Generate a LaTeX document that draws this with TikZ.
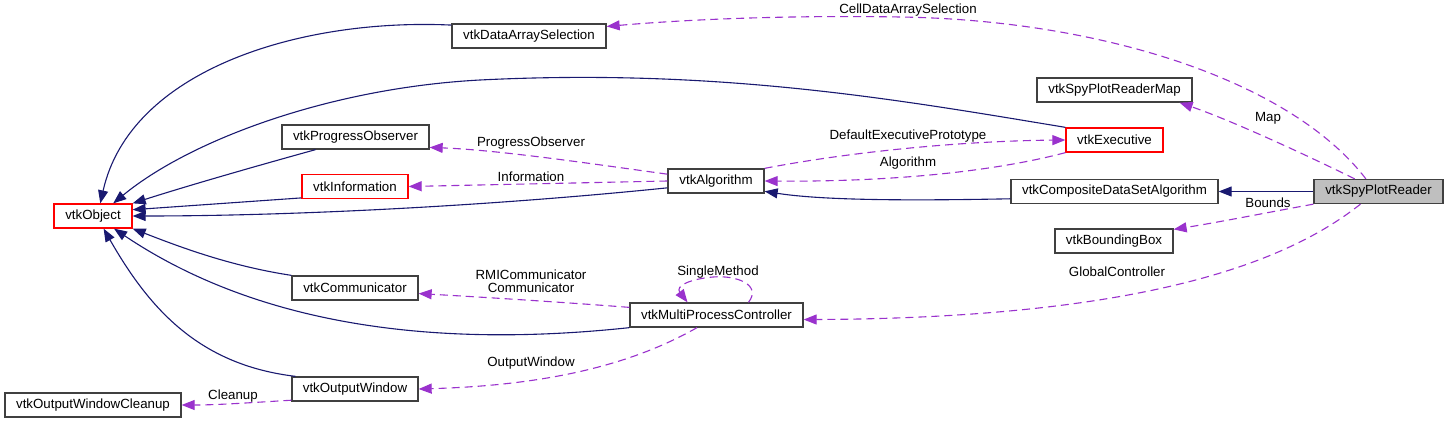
\documentclass[tikz,border=0pt]{standalone}
\usepackage{fontspec}
\setmainfont{Liberation Sans}
\usetikzlibrary{arrows.meta}
\definecolor{navy}{HTML}{191970}
\definecolor{orchid}{HTML}{9A32CD}
\begin{document}
\begin{tikzpicture}[x=1pt,y=-1pt,
 box/.style={draw=black!75, line width=1.3pt, fill=white, minimum height=24pt, inner sep=0pt, font=\fontsize{13.3}{15}\selectfont},
 redbox/.style={box, draw=red},
 inh/.style={draw=navy, line width=1.1pt, -{Triangle[length=13pt,width=10pt]}},
 use/.style={draw=orchid, line width=1.1pt, dash pattern=on 8pt off 5pt, -{Triangle[length=13pt,width=10pt]}},
 lbl/.style={font=\fontsize{13.3}{15}\selectfont, inner sep=0pt, align=center}]
\useasboundingbox[fill=white] (0,0) rectangle (1448,423);

% nodes
\node[box, minimum width=154pt] (das) at (529,36) {vtkDataArraySelection};
\node[box, minimum width=155pt] (map) at (1114.5,90) {vtkSpyPlotReaderMap};
\node[redbox, minimum width=97pt] (exe) at (1114.5,140) {vtkExecutive};
\node[box, minimum width=207pt] (cdsa) at (1114.5,191.5) {vtkCompositeDataSetAlgorithm};
\node[box, minimum width=129pt, fill=black!25] (spr) at (1378.5,191.5) {vtkSpyPlotReader};
\node[box, minimum width=118pt] (bb) at (1114,241) {vtkBoundingBox};
\node[box, minimum width=147pt] (po) at (355.5,137) {vtkProgressObserver};
\node[redbox, minimum width=106pt] (inf) at (355,186.5) {vtkInformation};
\node[redbox, minimum width=78pt] (obj) at (93,216) {vtkObject};
\node[box, minimum width=126pt] (comm) at (355,288) {vtkCommunicator};
\node[box, minimum width=126pt] (ow) at (355,389) {vtkOutputWindow};
\node[box, minimum width=176pt] (owc) at (93,405) {vtkOutputWindowCleanup};
\node[box, minimum width=96pt] (alg) at (716,181) {vtkAlgorithm};
\node[box, minimum width=173pt] (mpc) at (716.5,315) {vtkMultiProcessController};

% inheritance
\draw[inh] (das.172) .. controls (300,18) and (130,70) .. (obj.60);
\draw[inh] (exe.north west) .. controls (900,100) and (720,68) .. (480,80)
  .. controls (330,88) and (190,140) .. (obj.32);
\draw[inh] ([xshift=-40pt]po.south) .. controls (260,165) and (190,185) .. (obj.north east);
\draw[inh] (inf.192) -- (obj.9);
\draw[inh] (alg.188) .. controls (500,205) and (300,216) .. (obj.east);
\draw[inh] (comm.north west) .. controls (230,266) and (180,247) .. (obj.south east);
\draw[inh] (mpc.south west) .. controls (420,350) and (250,320) .. (obj.-31);
\draw[inh] (ow.168) .. controls (200,365) and (150,310) .. (obj.-50);
\draw[inh] (cdsa.184) .. controls (900,201) and (820,200) .. (alg.-12);
\draw[inh] (spr.west) -- (cdsa.east);

% usage
\draw[use] (spr.135) .. controls (1290,80) and (1100,20) .. (900,17)
  .. controls (780,15) and (680,20) .. (das.7);
\node[lbl] (l1) at (908,10) {CellDataArraySelection};
\draw[use] (spr.152) .. controls (1300,152) and (1230,120) .. (map.-11);
\node[lbl] (l2) at (1268,118) {Map};
\draw[use] (spr.191) .. controls (1270,212) and (1220,222) .. (bb.11);
\node[lbl] (l3) at (1268,203) {Bounds};
\draw[use] (spr.-145) .. controls (1290,260) and (1150,318) .. (mpc.-3);
\node[lbl] (l4) at (1117,272) {GlobalController};
\draw[use] (alg.north east) .. controls (850,152) and (960,141) .. (exe.west);
\node[lbl] (l5) at (908,136) {DefaultExecutivePrototype};
\draw[use] (exe.south west) .. controls (1000,170) and (900,182) .. (alg.east);
\node[lbl] (l6) at (908,163) {Algorithm};
\draw[use] (alg.172) .. controls (600,165) and (500,150) .. (po.-8);
\node[lbl] (l7) at (531,143) {ProgressObserver};
\draw[use] (alg.west) -- (inf.east);
\node[lbl] (l8) at (531,177) {Information};
\draw[use] (mpc.175) .. controls (560,302) and (480,297) .. (comm.-5);
\node[lbl] (l9) at (531,281) {RMICommunicator\\[-2pt]Communicator};
\draw[use] ([xshift=32pt]mpc.north) .. controls (762,285) and (737,275) .. (713,277)
  .. controls (690,279) and (675,286) .. ([xshift=-29pt]mpc.north);
\node[lbl] (l10) at (718,272) {SingleMethod};
\draw[use] ([xshift=-19.5pt]mpc.south) .. controls (640,360) and (560,385) .. (ow.east);
\node[lbl] (l11) at (531,363) {OutputWindow};
\draw[use] (ow.190) .. controls (260,402) and (220,405) .. (owc.east);
\node[lbl] (l12) at (233,396) {Cleanup};
\end{tikzpicture}
\end{document}
